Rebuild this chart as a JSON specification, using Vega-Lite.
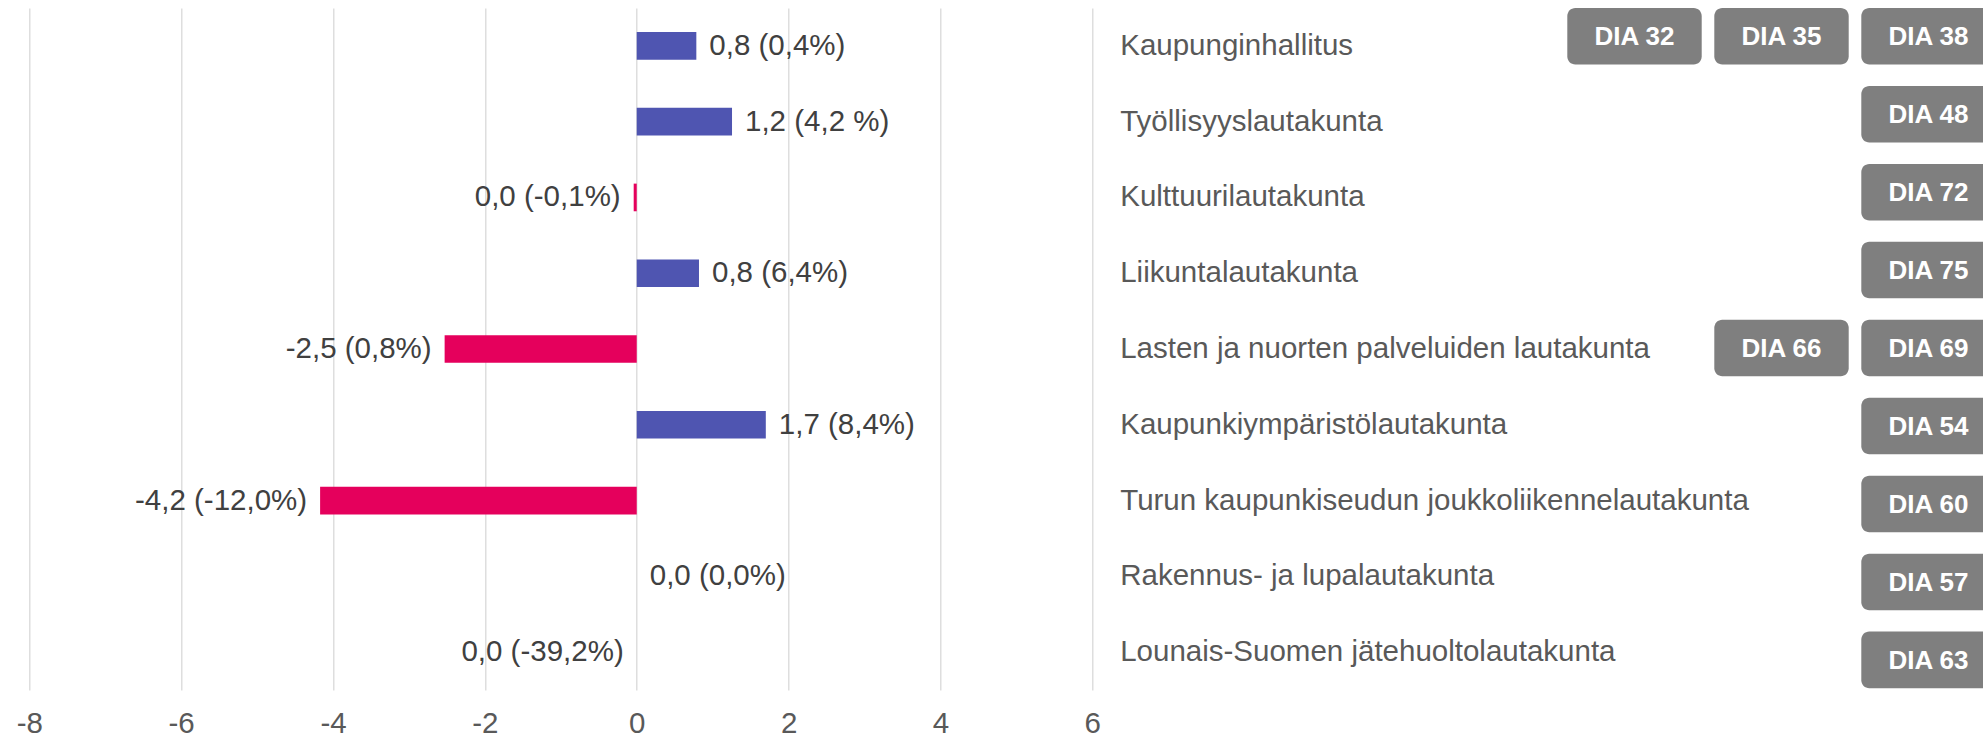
{
  "$schema": "https://vega.github.io/schema/vega-lite/v6.json",
  "width": 1063,
  "height": 682,
  "autosize": {"type": "none"},
  "padding": {"left": 29.3, "top": 8, "right": 890.7, "bottom": 47},
  "background": "#ffffff",
  "config": {
    "view": {"stroke": null},
    "font": "Liberation Sans",
    "axis": {"labelFont": "Liberation Sans"},
    "text": {"font": "Liberation Sans"}
  },
  "datasets": {
    "bars": [
      {"lautakunta": "Kaupunginhallitus", "value": 0.785, "pct": 0.4, "label": "0,8 (0,4%)"},
      {"lautakunta": "Työllisyyslautakunta", "value": 1.255, "pct": 4.2, "label": "1,2 (4,2 %)"},
      {"lautakunta": "Kulttuurilautakunta", "value": -0.04, "pct": -0.1, "label": "0,0 (-0,1%)"},
      {"lautakunta": "Liikuntalautakunta", "value": 0.82, "pct": 6.4, "label": "0,8 (6,4%)"},
      {"lautakunta": "Lasten ja nuorten palveluiden lautakunta", "value": -2.53, "pct": 0.8, "label": "-2,5 (0,8%)"},
      {"lautakunta": "Kaupunkiympäristölautakunta", "value": 1.7, "pct": 8.4, "label": "1,7 (8,4%)"},
      {"lautakunta": "Turun kaupunkiseudun joukkoliikennelautakunta", "value": -4.17, "pct": -12.0, "label": "-4,2 (-12,0%)"},
      {"lautakunta": "Rakennus- ja lupalautakunta", "value": 0, "pct": 0.0, "label": "0,0 (0,0%)"},
      {"lautakunta": "Lounais-Suomen jätehuoltolautakunta", "value": 0, "pct": -39.2, "label": "0,0 (-39,2%)"}
    ],
    "badges": [
      {"lautakunta": "Kaupunginhallitus", "dia": "DIA 32", "column": 1},
      {"lautakunta": "Kaupunginhallitus", "dia": "DIA 35", "column": 2},
      {"lautakunta": "Kaupunginhallitus", "dia": "DIA 38", "column": 3},
      {"lautakunta": "Työllisyyslautakunta", "dia": "DIA 48", "column": 3},
      {"lautakunta": "Kulttuurilautakunta", "dia": "DIA 72", "column": 3},
      {"lautakunta": "Liikuntalautakunta", "dia": "DIA 75", "column": 3},
      {"lautakunta": "Lasten ja nuorten palveluiden lautakunta", "dia": "DIA 66", "column": 2},
      {"lautakunta": "Lasten ja nuorten palveluiden lautakunta", "dia": "DIA 69", "column": 3},
      {"lautakunta": "Kaupunkiympäristölautakunta", "dia": "DIA 54", "column": 3},
      {"lautakunta": "Turun kaupunkiseudun joukkoliikennelautakunta", "dia": "DIA 60", "column": 3},
      {"lautakunta": "Rakennus- ja lupalautakunta", "dia": "DIA 57", "column": 3},
      {"lautakunta": "Lounais-Suomen jätehuoltolautakunta", "dia": "DIA 63", "column": 3}
    ]
  },
  "resolve": {"scale": {"x": "independent", "y": "independent"}, "axis": {"x": "independent", "y": "independent"}},
  "layer": [
    {
      "data": {"name": "bars"},
      "encoding": {
        "y": {
          "field": "lautakunta",
          "type": "nominal",
          "sort": ["Kaupunginhallitus", "Työllisyyslautakunta", "Kulttuurilautakunta", "Liikuntalautakunta", "Lasten ja nuorten palveluiden lautakunta", "Kaupunkiympäristölautakunta", "Turun kaupunkiseudun joukkoliikennelautakunta", "Rakennus- ja lupalautakunta", "Lounais-Suomen jätehuoltolautakunta"],
          "scale": {"paddingInner": 0.635, "paddingOuter": 0.3175},
          "axis": {"orient": "right", "title": null, "domain": false, "ticks": false, "grid": false, "labelPadding": 27.4, "labelFontSize": 29.5, "labelColor": "#595959", "labelLimit": 0, "labelAlign": "left"}
        }
      },
      "layer": [
        {
          "mark": {"type": "bar"},
          "encoding": {
            "x": {
              "field": "value",
              "type": "quantitative",
              "scale": {"domain": [-8, 6], "nice": false, "zero": false},
              "axis": {"values": [-8, -6, -4, -2, 0, 2, 4, 6], "labelExpr": "datum.value + ''", "title": null, "grid": true, "gridColor": "#d9d9d9", "gridWidth": 1.3, "domain": false, "ticks": false, "labelPadding": 19, "labelFontSize": 29.5, "labelColor": "#595959", "labelOverlap": false, "labelFlush": false}
            },
            "color": {"condition": {"test": "datum.value < 0", "value": "#E5005C"}, "value": "#4F55B1"}
          }
        },
        {
          "transform": [{"filter": "datum.value > 0 || (datum.value == 0 && datum.pct >= 0)"}],
          "mark": {"type": "text", "align": "left", "baseline": "middle", "dx": 13, "fontSize": 29.5, "color": "#404040"},
          "encoding": {
            "x": {"field": "value", "type": "quantitative"},
            "text": {"field": "label"}
          }
        },
        {
          "transform": [{"filter": "datum.value < 0 || (datum.value == 0 && datum.pct < 0)"}],
          "mark": {"type": "text", "align": "right", "baseline": "middle", "dx": -13, "fontSize": 29.5, "color": "#404040"},
          "encoding": {
            "x": {"field": "value", "type": "quantitative"},
            "text": {"field": "label"}
          }
        }
      ]
    },
    {
      "data": {"name": "badges"},
      "encoding": {
        "y": {
          "field": "lautakunta",
          "type": "nominal",
          "sort": ["Kaupunginhallitus", "Työllisyyslautakunta", "Kulttuurilautakunta", "Liikuntalautakunta", "Lasten ja nuorten palveluiden lautakunta", "Kaupunkiympäristölautakunta", "Turun kaupunkiseudun joukkoliikennelautakunta", "Rakennus- ja lupalautakunta", "Lounais-Suomen jätehuoltolautakunta"],
          "scale": {"paddingInner": 0.275, "paddingOuter": 0.012, "align": 0},
          "axis": null
        },
        "x": {
          "field": "column",
          "type": "ordinal",
          "scale": {"domain": [1, 2, 3], "range": [1538, 1966.4], "paddingInner": 0.0857, "paddingOuter": 0, "align": 0},
          "axis": null
        }
      },
      "layer": [
        {
          "mark": {"type": "rect", "color": "#7F7F7F", "cornerRadius": 8}
        },
        {
          "mark": {"type": "text", "align": "center", "baseline": "middle", "dy": 1, "fontSize": 26, "fontWeight": "bold", "color": "#ffffff"},
          "encoding": {"text": {"field": "dia"}}
        }
      ]
    }
  ]
}
